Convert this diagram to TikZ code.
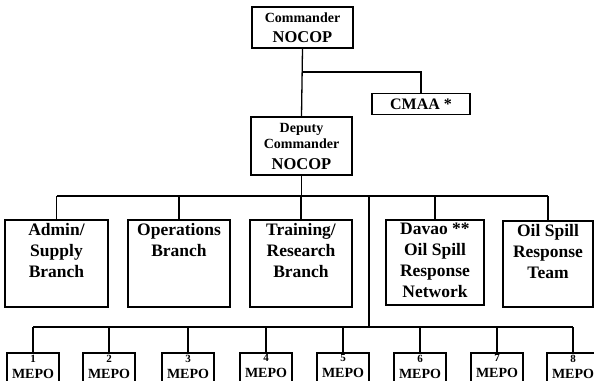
\documentclass[tikz,border=0pt]{standalone}
\usepackage{fontspec}
\setmainfont{Liberation Serif}
\newcommand{\toplines}[3]{\parbox[c][#1][t]{#2}{\centering #3}}
\newcommand{\sz}[2]{\fontsize{#1}{#2}\selectfont}

\begin{document}
\begin{tikzpicture}[x=1pt, y=-1pt,
    unit/.style={draw, line width=1.5pt, font=\bfseries, inner sep=2pt},
    branch/.style={unit, font=\bfseries\fontsize{17.5}{21}\selectfont, inner sep=3pt},
    mepo/.style={unit, anchor=north, inner sep=2pt, font=\bfseries\fontsize{14}{16}\selectfont},
    link/.style={line width=1.3pt}]
    \useasboundingbox (0,0) rectangle (594,380);
    \clip (0,0) rectangle (594,380);

    % Commander and staff
    \node[unit, minimum width=101pt, minimum height=41pt] (cmdr) at (302.5,27.5)
        {\parbox{95pt}{\centering\sz{14}{16}Commander\par\sz{16.5}{20}NOCOP\par}};
    \node[unit, minimum width=98pt, minimum height=21pt] (cmaa) at (421,104)
        {\sz{16}{18}CMAA *};
    \node[unit, minimum width=101pt, minimum height=58pt] (deputy) at (301.5,146)
        {\parbox{95pt}{\centering\sz{14}{16}Deputy\par Commander\par\sz{16.5}{21}NOCOP\par}};

    \coordinate (staff) at (cmdr.south |- 0,72);
    \draw[link] (cmdr.south) -- (deputy.north);
    \draw[link] (staff) -| (cmaa.north);

    % Branches
    \node[branch] (admin) at (56.5,263.5) {\toplines{81pt}{97pt}{Admin/\\Supply\\Branch}};
    \node[branch] (ops) at (179,263.5) {\toplines{81pt}{96pt}{Operations\\Branch}};
    \node[branch] (training) at (301,263.5) {\toplines{81pt}{96pt}{Training/\\Research\\Branch}};
    \node[branch] (davao) at (435,262.5) {\toplines{79pt}{92pt}{Davao **\\Oil Spill\\Response\\Network}};
    \node[branch] (team) at (548,264) {\toplines{80pt}{84pt}{Oil Spill\\Response\\Team}};

    \coordinate (bus) at (deputy.south |- 0,196);
    \draw[link] (deputy.south) -- (bus);
    \draw[link] (admin.north |- bus) -- (team.north |- bus);
    \foreach \b in {admin, ops, training, davao, team}
        \draw[link] (\b.north |- bus) -- (\b.north);

    % MEPOs
    \coordinate (tap) at (369,196);
    \coordinate (mepobus) at (369,327);
    \draw[link] (tap) -- (mepobus);
    \foreach \i/\x in {1/33, 2/109, 3/188, 4/266, 5/343, 6/420, 7/497, 8/573} {
        \node[mepo] (mepo\i) at (\x,352)
            {\toplines{40pt}{48pt}{{\sz{11}{12}\i}\\MEPO}};
        \draw[link] (mepo\i.north |- mepobus) -- (mepo\i.north);
    }
    \draw[link] (mepo1.north |- mepobus) -- (mepo8.north |- mepobus);
\end{tikzpicture}
\end{document}
